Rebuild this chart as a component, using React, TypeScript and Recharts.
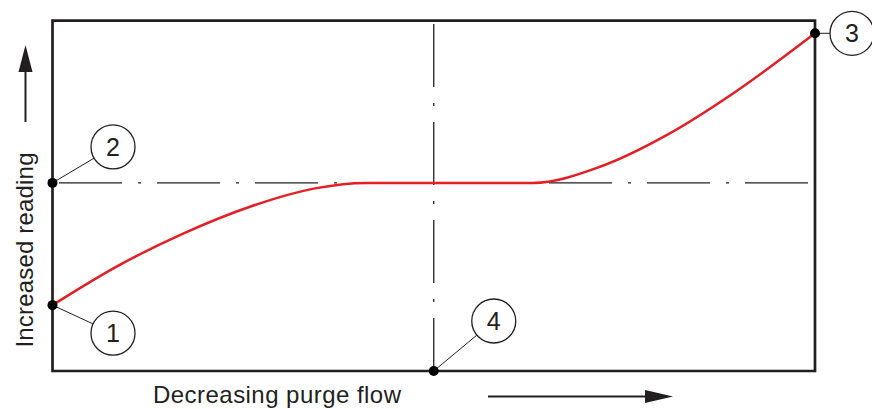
import { ComposedChart, Line, XAxis, YAxis, ReferenceLine, ReferenceArea, ReferenceDot } from 'recharts';

// purge flow (left -> right decreasing) vs reading, both as 0..100 %
const flow = [0, 8.4, 17.2, 25.9, 34.6, 41, 50, 63, 71.8, 80.6, 89.3, 100];
const reading = [18.8, 29.8, 39.3, 46.9, 52.2, 53.7, 53.7, 53.7, 58.3, 67.4, 79.3, 96.4];

const setpoint = 53.7;
const midFlow = 50;

const markers = [
  { id: '1', x: 0, y: 18.8, dx: 60.5, dy: 28 },
  { id: '2', x: 0, y: 53.7, dx: 60.5, dy: -36 },
  { id: '3', x: 100, y: 96.4, dx: 37, dy: 0 },
  { id: '4', x: 50, y: 0, dx: 60, dy: -50 },
];

const data = flow.map((f, i) => ({ flow: f, reading: reading[i] }));

const INK = '#231f20';
const FONT = '"Liberation Sans", Arial, sans-serif';
const R = 22;

const Marker = (props: any) => {
  const { cx, cy, m } = props;
  const len = Math.hypot(m.dx, m.dy);
  const ex = cx + (m.dx * (len - R)) / len;
  const ey = cy + (m.dy * (len - R)) / len;
  return (
    <g>
      <line x1={cx} y1={cy} x2={ex} y2={ey} stroke={INK} strokeWidth={1} />
      <circle cx={cx + m.dx} cy={cy + m.dy} r={R} fill="#fff" stroke={INK} strokeWidth={1.3} />
      <text x={cx + m.dx} y={cy + m.dy + 9} textAnchor="middle" fontSize={25} fill={INK} fontFamily={FONT}>
        {m.id}
      </text>
      <circle cx={cx} cy={cy} r={5} fill="#000" />
    </g>
  );
};

export default function App() {
  return (
    <div style={{ position: 'absolute', left: 0, top: 0, width: 872, height: 409, background: '#fff' }}>
      <ComposedChart width={872} height={409} data={data} margin={{ top: 20.7, right: 57, bottom: 38, left: 52.5 }}>
        <XAxis dataKey="flow" type="number" domain={[0, 100]} hide />
        <YAxis type="number" domain={[0, 100]} hide />
        <ReferenceLine y={setpoint} stroke={INK} strokeWidth={1.3} strokeDasharray="63 16 3 16" strokeDashoffset={-6.5} />
        <ReferenceLine x={midFlow} stroke={INK} strokeWidth={1.3} strokeDasharray="63 16 3 16" strokeDashoffset={10} />
        <ReferenceArea x1={0} x2={100} y1={0} y2={100} fill="none" fillOpacity={0} stroke={INK} strokeWidth={2.7} />
        <Line
          dataKey="reading"
          type="monotone"
          stroke="#e31e24"
          strokeWidth={2.5}
          dot={false}
          activeDot={false}
          isAnimationActive={false}
        />
        {markers.map((m) => (
          <ReferenceDot key={m.id} x={m.x} y={m.y} r={5} shape={(p: any) => <Marker {...p} m={m} />} />
        ))}
      </ComposedChart>
      <svg width={872} height={409} style={{ position: 'absolute', left: 0, top: 0, pointerEvents: 'none' }}>
        <text x={33} y={250} transform="rotate(-90 33 250)" textAnchor="middle" fontSize={24} fill={INK} fontFamily={FONT} textLength={195}>
          Increased reading
        </text>
        <line x1={25.5} y1={122} x2={25.5} y2={66} stroke={INK} strokeWidth={2} />
        <polygon points="25.5,45 18.5,72 32.5,72" fill={INK} />
        <text x={153} y={403} fontSize={24} fill={INK} fontFamily={FONT} textLength={248}>
          Decreasing purge flow
        </text>
        <line x1={488} y1={396.5} x2={650} y2={396.5} stroke={INK} strokeWidth={2} />
        <polygon points="673,396.5 645,390 645,403" fill={INK} />
      </svg>
    </div>
  );
}
